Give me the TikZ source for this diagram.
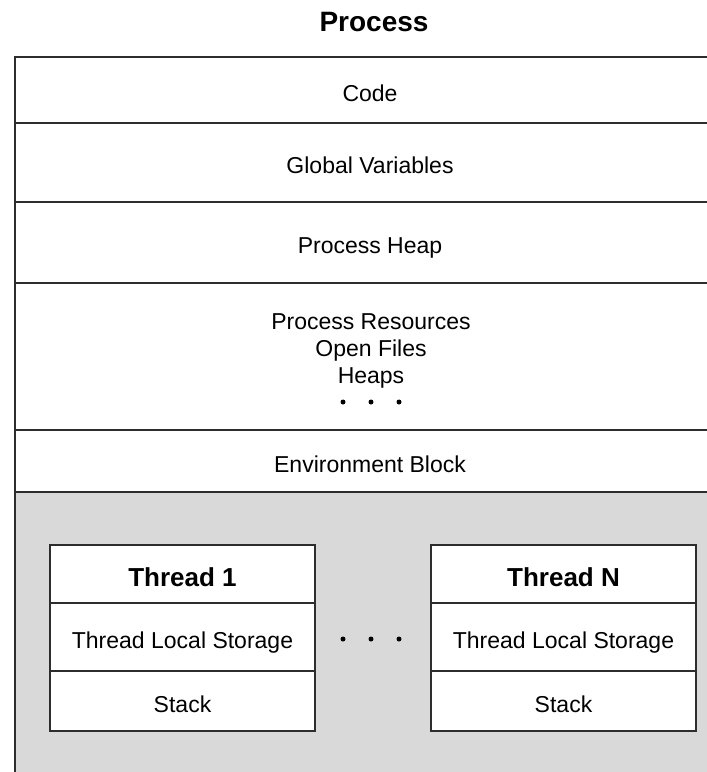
\documentclass[tikz,border=0pt]{standalone}
\usepackage{fontspec}
\setmainfont{Liberation Sans}
\definecolor{areagray}{RGB}{217,217,217}
\definecolor{edge}{RGB}{45,45,45}
\begin{document}
\begin{tikzpicture}[x=1pt,y=-1pt,
  every node/.style={inner sep=0pt, outer sep=0pt},
  rowbox/.style={draw=edge, line width=1.8pt, fill=white, minimum width=710pt,
    anchor=north west, font=\fontsize{23}{27}\selectfont, align=center,
    text height=22pt, text depth=0pt},
  cellbox/.style={draw=edge, line width=1.8pt, fill=white, minimum width=265pt,
    anchor=north west, font=\fontsize{23}{27}\selectfont,
    text height=22pt, text depth=0pt},
  headbox/.style={cellbox, font=\bfseries\fontsize{26}{30}\selectfont,
    text height=24pt},
  dotmark/.style={fill=black, draw=none, circle, minimum size=5pt}
]
\useasboundingbox (0,0) rectangle (707,772);
\fill[white] (0,0) rectangle (707,772);

% title
\node (title) at (374,22) {\bfseries\fontsize{28}{32}\selectfont Process};

% thread area (grey, runs past the page edge)
\node[rowbox, fill=areagray, minimum height=320pt] (area) at (15,492) {};

% process segments from top to bottom
\node[rowbox, minimum height=66pt]  (code)    at (15,57)  {Code};
\node[rowbox, minimum height=79pt]  (globals) at (15,123) {Global Variables};
\node[rowbox, minimum height=81pt]  (heap)    at (15,202) {Process Heap};
\node[rowbox, minimum height=147pt] (res)     at (15,283) {};
\node[rowbox, minimum height=62pt]  (env)     at (15,430) {Environment Block};

% process resources text
\node[font=\fontsize{23}{27}\selectfont, align=center] (restext) at (371,351)
  {Process Resources\\Open Files\\Heaps};
\node[dotmark] (rd1) at (343,402) {};
\node[dotmark] (rd2) at (371,402) {};
\node[dotmark] (rd3) at (399,402) {};

% thread 1
\node[headbox, minimum height=58pt] (t1head)  at (50,545) {Thread 1};
\node[cellbox, minimum height=68pt] (t1tls)   at (50,603) {Thread Local Storage};
\node[cellbox, minimum height=60pt] (t1stack) at (50,671) {Stack};

% thread N
\node[headbox, minimum height=58pt] (tnhead)  at (431,545) {Thread N};
\node[cellbox, minimum height=68pt] (tntls)   at (431,603) {Thread Local Storage};
\node[cellbox, minimum height=60pt] (tnstack) at (431,671) {Stack};

% ellipsis between threads
\node[dotmark] (td1) at (343,639) {};
\node[dotmark] (td2) at (371,639) {};
\node[dotmark] (td3) at (399,639) {};
\end{tikzpicture}
\end{document}
